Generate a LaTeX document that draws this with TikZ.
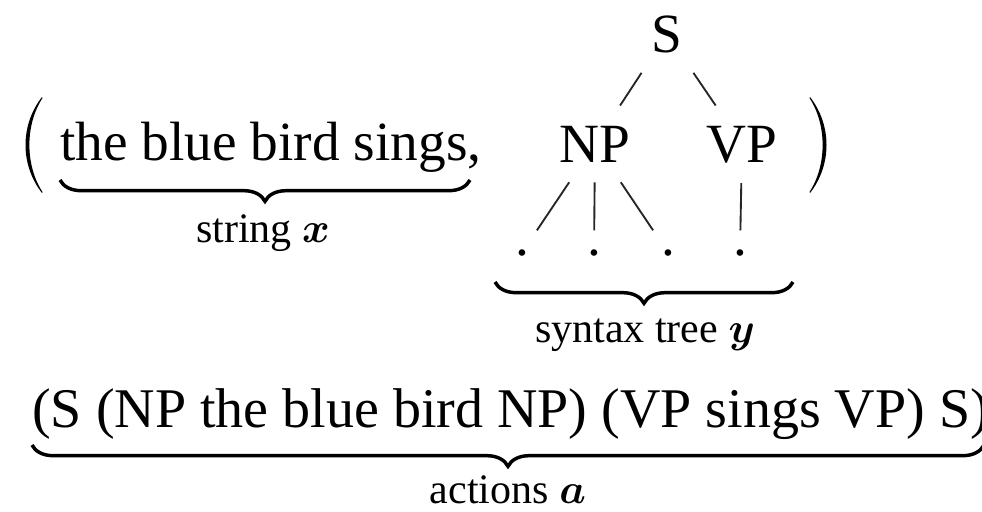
\RequirePackage{fix-cm}
\documentclass[tikz,border=0pt]{standalone}
\usepackage{fontspec}
\usepackage{amsmath}
\setmainfont{Liberation Serif}
\usetikzlibrary{decorations.pathreplacing}
\newcommand{\bvec}[1]{$\boldsymbol{#1}$}
\begin{document}
\begin{tikzpicture}[x=0.75pt,y=-0.75pt,
  bigtext/.style={font=\fontsize{41.5}{48}\selectfont, inner sep=0pt, anchor=base},
  caption/.style={font=\fontsize{31.5}{36}\selectfont, inner sep=0pt, anchor=base},
  treenode/.style={font=\fontsize{41.5}{48}\selectfont, inner xsep=12pt, inner ysep=15pt, anchor=base},
  leaf/.style={font=\fontsize{41.5}{48}\selectfont, inner xsep=15pt, inner ysep=14pt, anchor=base},
  edge/.style={line width=1.4pt, draw=black!85},
  ubrace/.style={decorate, decoration={brace, mirror, amplitude=16pt}, line width=2.6pt},
  paren/.style={fill=black}]
\useasboundingbox (0,0) rectangle (982,511);

% left and right parentheses around the pair
\path[paren] (42,97) .. controls (20,125) and (20,165) .. (42,193)
             -- (42.5,192) .. controls (25,165) and (25,125) .. (42.5,98) -- cycle;
\path[paren] (810,97) .. controls (832,125) and (832,165) .. (810,193)
             -- (809.5,192) .. controls (827,165) and (827,125) .. (809.5,98) -- cycle;

% the sentence
\node[bigtext, anchor=base west] (sent) at (60,160) {the blue bird sings,};
\coordinate (sl) at (60,180);
\coordinate (sr) at (470,180);
\draw[ubrace] (sl) -- (sr);
\node[caption] (xlab) at (263,242) {string \bvec{x}};

% the syntax tree
\node[treenode] (S)  at (667,52)  {S};
\node[treenode] (NP) at (595,162) {NP};
\node[treenode] (VP) at (742,162) {VP};
\node[leaf] (d1) at (522,255) {.};
\node[leaf] (d2) at (594,255) {.};
\node[leaf] (d3) at (668,255) {.};
\node[leaf] (d4) at (740,255) {.};
\draw[edge] (S) -- (NP);
\draw[edge] (S) -- (VP);
\draw[edge] (NP) -- (d1);
\draw[edge] (NP) -- (d2);
\draw[edge] (NP) -- (d3);
\draw[edge] (VP) -- (d4);
\coordinate (tl) at (495,282);
\coordinate (tr) at (793,282);
\draw[ubrace] (tl) -- (tr);
\node[caption] (ylab) at (645,342) {syntax tree \bvec{y}};

% the action sequence
\node[bigtext, font=\fontsize{42}{48}\selectfont, anchor=base west] (acts) at (32,427) {(S (NP the blue bird NP) (VP sings VP) S)};
\coordinate (al) at (32,445);
\coordinate (ar) at (984,445);
\draw[ubrace] (al) -- (ar);
\node[caption] (alab) at (508,503) {actions \bvec{a}};
\end{tikzpicture}
\end{document}
